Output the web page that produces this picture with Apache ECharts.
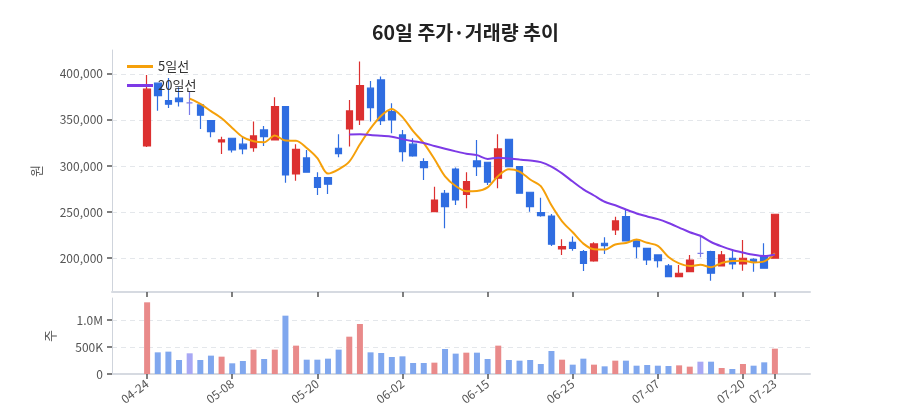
<!DOCTYPE html>
<html><head><meta charset="utf-8">
<script src="https://cdn.jsdelivr.net/npm/echarts@6/dist/echarts.min.js"></script>
<style>html,body{margin:0;padding:0;background:#fff}#c{width:900px;height:420px}</style>
</head><body><div id="c"></div>
<script>
const tickIdx = [0, 8, 16, 24, 32, 40, 48, 56, 59];
const tickLabels = ['04-24', '05-08', '05-20', '06-02', '06-15', '06-25', '07-07', '07-20', '07-23'];

const open = [321700,389900,371000,373600,368500,366300,349200,326100,330100,323600,
  319900,339100,328300,364500,291300,308700,287300,287300,319200,340200,
  350000,384500,393500,359000,333700,323600,304700,250300,270300,296700,
  269200,305400,304000,286600,329000,299200,271400,249200,245600,209800,
  217000,206800,196700,216000,230400,244900,218500,210500,203300,191300,
  179700,185100,204900,206800,191300,199700,193500,198600,201400,199700];
const close = [383400,376400,367100,369900,368500,355100,337300,328300,317400,318500,
  332600,331800,364500,290200,318100,293200,276800,280100,313400,359800,
  387300,363400,349200,350000,315500,310900,298200,263000,255800,263000,
  282900,299200,282300,318500,299200,270300,255800,246000,214900,212300,
  210500,194200,215200,213400,240200,218500,212300,197800,197100,179700,
  183400,197800,204900,183400,203300,193500,199700,196000,188800,247500];
const low = [320500,360100,363000,364500,355400,340200,331200,313000,314500,312700,
  315500,321700,327800,281800,284000,292500,268500,269600,309500,321000,
  344600,348200,344600,335500,304700,310000,284800,250000,232300,257600,
  254000,289100,279300,275800,298500,269800,250300,244900,213000,203300,
  207900,185900,196000,204300,225000,218000,199700,192400,189500,179000,
  179500,184500,200800,175300,191000,187700,186200,185100,188500,199500];
const high = [398900,390500,395700,385500,380800,366500,349500,331800,330500,331200,
  348200,343500,374700,365000,323600,317400,293100,287500,334500,371700,
  413400,392400,397100,368200,339100,330100,308400,277500,273900,298200,
  293100,328300,304500,334500,329500,299700,271500,265500,247800,220300,
  223200,208700,217000,222500,244900,252200,219000,211000,203500,193500,
  192400,203300,223900,207900,207600,207600,219600,199700,216000,247800];
const volume = [1327000,401000,414000,259000,383000,259000,340000,321000,198000,241000,
  451000,278000,451000,1080000,525000,265000,265000,284000,451000,691000,
  926000,401000,389000,315000,327000,204000,204000,210000,463000,377000,
  395000,395000,278000,525000,259000,247000,259000,185000,426000,265000,
  173000,284000,173000,142000,247000,247000,154000,167000,154000,148000,
  160000,136000,228000,228000,111000,93000,185000,154000,216000,469000];

const UP = '#dc3030', DOWN = '#2f6de1', DOJI = '#7b7be8';
const VUP = '#e98a8a', VDOWN = '#80a7ee', VDOJI = '#a8a8f4';

function movingAvg(n) {
  const out = [];
  for (let i = n - 1; i < close.length; i++) {
    let s = 0;
    for (let k = i - n + 1; k <= i; k++) s += close[k];
    out.push([i, s / n]);
  }
  return out;
}

const candleData = open.map((o, i) => {
  const item = { value: [i, o, close[i], low[i], high[i]] };
  if (o === close[i]) item.itemStyle = { color: DOJI, color0: DOJI, borderColor: DOJI, borderColor0: DOJI, borderColorDoji: DOJI };
  return item;
});
const volData = volume.map((v, i) => ({
  value: [i, v],
  itemStyle: { color: close[i] > open[i] ? VUP : (close[i] < open[i] ? VDOWN : VDOJI) }
}));

const FONT = '"Noto Sans CJK KR", "Noto Sans", sans-serif';
const chart = echarts.init(document.getElementById('c'), null, { renderer: 'canvas' });
const xBase = {
  type: 'value', min: -3.3, max: 62.3,
  axisLine: { show: true, onZero: false, lineStyle: { color: '#d6dae1', width: 2 } },
  axisTick: { show: true, customValues: tickIdx, length: 5, lineStyle: { color: '#555', width: 1.5 } },
  splitLine: { show: false }
};
chart.setOption({
  animation: false,
  textStyle: { fontFamily: FONT },
  title: {
    text: '60일 주가·거래량 추이', left: 367, top: 18,
    textStyle: { fontSize: 19.5, fontWeight: 'bold', color: '#222', fontFamily: FONT }
  },
  legend: {
    data: ['5일선', '20일선'], orient: 'vertical', left: 122, top: 55,
    icon: 'rect', itemWidth: 26, itemHeight: 3, itemGap: 6,
    textStyle: { fontSize: 13, color: '#333', fontFamily: FONT }
  },
  grid: [
    { left: 112, right: 90, top: 50, height: 242 },
    { left: 112, right: 90, top: 298, height: 76 }
  ],
  xAxis: [
    Object.assign({}, xBase, { gridIndex: 0, axisLabel: { show: false } }),
    Object.assign({}, xBase, {
      gridIndex: 1,
      axisLabel: {
        customValues: tickIdx, rotate: 37, color: '#555', fontSize: 12, margin: 8,
        formatter: v => tickLabels[tickIdx.indexOf(Math.round(v))] || ''
      }
    })
  ],
  yAxis: [
    {
      type: 'value', gridIndex: 0, min: 163000, max: 426000,
      name: '원', nameLocation: 'middle', nameGap: 69,
      nameTextStyle: { color: '#555', fontSize: 13 },
      axisLine: { show: true, onZero: false, lineStyle: { color: '#cfd4dc', width: 1 } },
      axisTick: { show: true, customValues: [200000, 250000, 300000, 350000, 400000], length: 5, lineStyle: { color: '#555', width: 1.5 } },
      axisLabel: { customValues: [200000, 250000, 300000, 350000, 400000], color: '#555', fontSize: 12, margin: 9,
        formatter: v => v.toLocaleString('en-US') },
      splitLine: { show: true, lineStyle: { color: '#e4e7eb', type: [5, 4], width: 1 } }
    },
    {
      type: 'value', gridIndex: 1, min: 0, max: 1407000,
      name: '주', nameLocation: 'middle', nameGap: 55,
      nameTextStyle: { color: '#555', fontSize: 13 },
      axisLine: { show: true, onZero: false, lineStyle: { color: '#cfd4dc', width: 1 } },
      axisTick: { show: true, customValues: [0, 500000, 1000000], length: 5, lineStyle: { color: '#555', width: 1.5 } },
      axisLabel: { customValues: [0, 500000, 1000000], color: '#555', fontSize: 12, margin: 9,
        formatter: v => v === 0 ? '0' : (v >= 1000000 ? (v / 1000000).toFixed(1) + 'M' : Math.round(v / 1000) + 'K') },
      splitLine: { show: true, lineStyle: { color: '#e4e7eb', type: [5, 4], width: 1 } }
    }
  ],
  series: [
    {
      type: 'candlestick', name: '주가', xAxisIndex: 0, yAxisIndex: 0,
      encode: { x: 0, y: [1, 2, 3, 4] },
      barWidth: 7,
      itemStyle: { color: UP, color0: DOWN, borderColor: UP, borderColor0: DOWN, borderWidth: 1.2 },
      data: candleData
    },
    {
      type: 'line', name: '5일선', xAxisIndex: 0, yAxisIndex: 0,
      data: movingAvg(5), showSymbol: false, symbol: 'none', smooth: 0.3,
      lineStyle: { color: '#f5a00a', width: 2 }, itemStyle: { color: '#f5a00a' }, z: 5
    },
    {
      type: 'line', name: '20일선', xAxisIndex: 0, yAxisIndex: 0,
      data: movingAvg(20), showSymbol: false, symbol: 'none', smooth: 0.3,
      lineStyle: { color: '#7d3ae6', width: 2 }, itemStyle: { color: '#7d3ae6' }, z: 5
    },
    {
      type: 'bar', name: '거래량', xAxisIndex: 1, yAxisIndex: 1,
      barWidth: 6, data: volData
    }
  ]
});
</script>
</body></html>
